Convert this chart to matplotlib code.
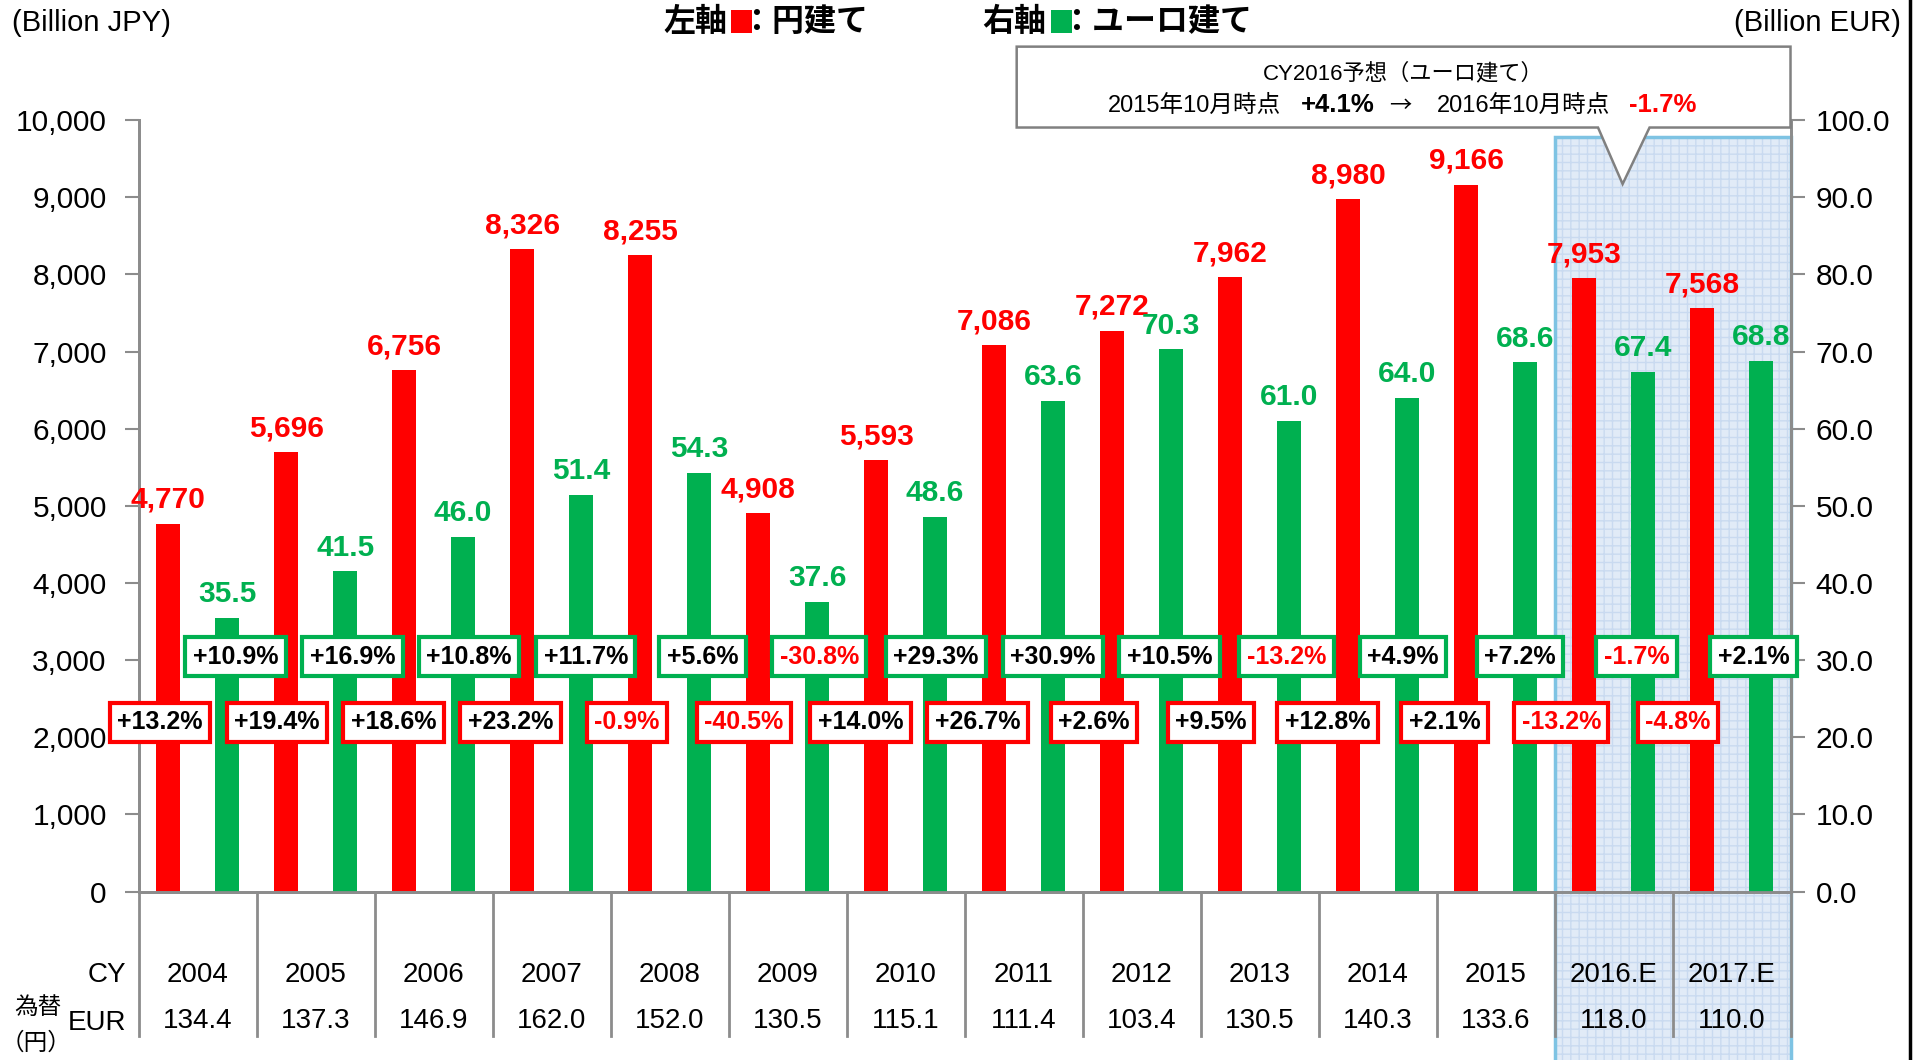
import matplotlib
matplotlib.use('Agg')
import matplotlib.pyplot as plt
import matplotlib.transforms as mtransforms
from matplotlib.patches import Rectangle, Polygon
from matplotlib.lines import Line2D
from matplotlib.ticker import FuncFormatter
import numpy as np

plt.rcParams['font.family'] = ['Liberation Sans', 'Noto Sans CJK JP', 'DejaVu Sans']

# data
years = ['2004', '2005', '2006', '2007', '2008', '2009', '2010',
         '2011', '2012', '2013', '2014', '2015', '2016.E', '2017.E']
jpy = [4770, 5696, 6756, 8326, 8255, 4908, 5593, 7086, 7272, 7962, 8980, 9166, 7953, 7568]
eur = [35.5, 41.5, 46.0, 51.4, 54.3, 37.6, 48.6, 63.6, 70.3, 61.0, 64.0, 68.6, 67.4, 68.8]
jpy_growth = [13.2, 19.4, 18.6, 23.2, -0.9, -40.5, 14.0, 26.7, 2.6, 9.5, 12.8, 2.1, -13.2, -4.8]
eur_growth = [10.9, 16.9, 10.8, 11.7, 5.6, -30.8, 29.3, 30.9, 10.5, -13.2, 4.9, 7.2, -1.7, 2.1]
eur_rate = [134.4, 137.3, 146.9, 162.0, 152.0, 130.5, 115.1, 111.4, 103.4, 130.5, 140.3, 133.6, 118.0, 110.0]
n_forecast = 2

RED = '#FF0000'
GREEN = '#00B050'
GRAY = '#8C8C8C'

fig = plt.figure(figsize=(19.23, 10.60), dpi=100)
ax = fig.add_axes([0.0721, 0.1589, 0.8590, 0.7277])
ax2 = ax.twinx()
x = np.arange(len(years))

# forecast shading
bt = mtransforms.blended_transform_factory(ax.transData, ax.transAxes)
x_fc = len(years) - n_forecast - 0.5
ax.add_patch(Rectangle((x_fc, -0.4), n_forecast, 0.9777 + 0.4, transform=bt,
                       facecolor='#E1EBF7', edgecolor='#C9DAF0', hatch='++', lw=0,
                       clip_on=False, zorder=0.2))
ax.add_patch(Rectangle((x_fc, -0.4), n_forecast, 0.9777 + 0.4, transform=bt,
                       facecolor='none', edgecolor='#7EC3E3', lw=2.5,
                       clip_on=False, zorder=0.3))

ax.bar(x - 0.25, jpy, width=0.2, color=RED, zorder=2)
ax2.bar(x + 0.25, eur, width=0.2, color=GREEN, zorder=2)

ax.set_xlim(-0.5, len(years) - 0.5)
ax.set_ylim(0, 10000)
ax2.set_ylim(0, 100)
ax.set_yticks(np.arange(0, 10001, 1000))
ax2.set_yticks(np.arange(0, 101, 10))
ax.yaxis.set_major_formatter(FuncFormatter(lambda v, p: f'{v:,.0f}'))
ax2.yaxis.set_major_formatter(FuncFormatter(lambda v, p: f'{v:.1f}'))
ax.set_xticks([])
ax.tick_params(axis='y', direction='out', length=10, width=1.5, color=GRAY, labelsize=21.5, pad=13)
ax2.tick_params(axis='y', direction='out', length=10, width=1.5, color=GRAY, labelsize=21.5, pad=8)
for a in (ax, ax2):
    a.spines['top'].set_visible(False)
    for s in ('left', 'right', 'bottom'):
        a.spines[s].set_color(GRAY)
        a.spines[s].set_linewidth(2)

# value labels
for i in range(len(years)):
    ax2.annotate(f'{jpy[i]:,}', (x[i] - 0.25, jpy[i]), xycoords=ax.transData,
                 xytext=(0, 7), textcoords='offset points', ha='center', va='bottom',
                 fontsize=21.5, fontweight='bold', color=RED)
    ax2.annotate(f'{eur[i]:.1f}', (x[i] + 0.25, eur[i]), xytext=(0, 7),
                 textcoords='offset points', ha='center', va='bottom',
                 fontsize=21.5, fontweight='bold', color=GREEN)

# growth boxes (spacing of the labels is a touch tighter than the categories)
step = 0.9896
for i in range(len(years)):
    g = eur_growth[i]
    ax2.text(0.321 + i * step, 0.3045, f'{g:+.1f}%', transform=bt, ha='center', va='center',
             fontsize=18, fontweight='bold', color=RED if g < 0 else 'black', zorder=5,
             bbox=dict(boxstyle='square,pad=0.3', facecolor='white', edgecolor=GREEN, lw=3))
    g = jpy_growth[i]
    ax2.text(-0.318 + i * step, 0.2196, f'{g:+.1f}%', transform=bt, ha='center', va='center',
             fontsize=18, fontweight='bold', color=RED if g < 0 else 'black', zorder=5,
             bbox=dict(boxstyle='square,pad=0.3', facecolor='white', edgecolor=RED, lw=3))

# table under the axis
for b in np.arange(-0.5, len(years), 1.0):
    ax.add_line(Line2D([b, b], [0, -0.1876], transform=bt, color=GRAY, lw=2, clip_on=False))
for i in range(len(years)):
    ax.text(x[i], -0.108, years[i], transform=bt, ha='center', va='center', fontsize=20)
    ax.text(x[i], -0.168, f'{eur_rate[i]:.1f}', transform=bt, ha='center', va='center', fontsize=20)
fig.text(0.0656, 0.0805, 'CY', ha='right', va='center', fontsize=20)
fig.text(0.0656, 0.0345, 'EUR', ha='right', va='center', fontsize=20)
fig.text(0.0195, 0.0495, '為替', ha='center', va='center', fontsize=17)
fig.text(0.0185, 0.0160, '（円）', ha='center', va='center', fontsize=17)

# axis unit labels
fig.text(0.006, 0.9785, '(Billion JPY)', ha='left', va='center', fontsize=21)
fig.text(0.9885, 0.9785, '(Billion EUR)', ha='right', va='center', fontsize=21)

# legend
cjk = ['Noto Sans CJK JP', 'DejaVu Sans']
fig.text(0.3450, 0.9790, '左軸', ha='left', va='center', fontsize=23, fontweight='bold', family=cjk)
fig.add_artist(Rectangle((0.3801, 0.9689), 0.0110, 0.0219, transform=fig.transFigure,
                         facecolor=RED, edgecolor='none'))
fig.text(0.3850, 0.9790, '：円建て', ha='left', va='center', fontsize=23, fontweight='bold', family=cjk)
fig.text(0.5108, 0.9790, '右軸', ha='left', va='center', fontsize=23, fontweight='bold', family=cjk)
fig.add_artist(Rectangle((0.5466, 0.9689), 0.0108, 0.0219, transform=fig.transFigure,
                         facecolor=GREEN, edgecolor='none'))
fig.text(0.5515, 0.9790, '：ユーロ建て', ha='left', va='center', fontsize=23, fontweight='bold', family=cjk)

# callout
x0, x1, yt, yb = 0.5287, 0.9311, 0.956, 0.8797
callout = Polygon([(x0, yt), (x1, yt), (x1, yb), (0.8578, yb), (0.8438, 0.8264),
                   (0.8310, yb), (x0, yb)], closed=True, transform=fig.transFigure,
                  facecolor='white', edgecolor='#808080', lw=1.8, zorder=10)
fig.add_artist(callout)
fig.text(0.7296, 0.9305, 'CY2016予想（ユーロ建て）', ha='center', va='center', fontsize=16, zorder=11)
fig.text(0.5759, 0.9005, '2015年10月時点', ha='left', va='center', fontsize=17, zorder=11)
fig.text(0.6766, 0.9005, '+4.1%', ha='left', va='center', fontsize=18.5, fontweight='bold', zorder=11)
fig.text(0.7225, 0.9005, '→', ha='left', va='center', fontsize=16, zorder=11, family=cjk)
fig.text(0.7474, 0.9005, '2016年10月時点', ha='left', va='center', fontsize=17, zorder=11)
fig.text(0.8470, 0.9005, '-1.7%', ha='left', va='center', fontsize=18.5, fontweight='bold',
         color=RED, zorder=11)

# frame line at the right edge
fig.add_artist(Line2D([0.9930, 0.9930], [0, 1], transform=fig.transFigure, color='black', lw=2.5))

fig.savefig('out.png', dpi=100)
